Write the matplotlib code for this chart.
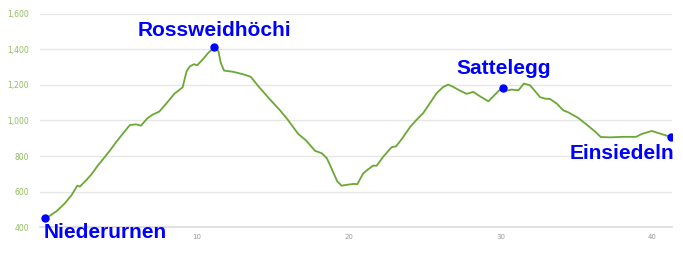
import matplotlib
matplotlib.use("Agg")
import matplotlib.pyplot as plt
from matplotlib.ticker import FuncFormatter

# elevation profile (km, m)
km = [0.0, 0.3, 0.74, 1.28, 1.73, 2.1, 2.27, 2.7, 3.05, 3.48, 3.81, 4.25, 4.69,
      5.13, 5.57, 6.0, 6.3, 6.71, 7.06, 7.5, 7.94, 8.49, 9.04, 9.3, 9.52, 9.79,
      10.0, 10.4, 10.73, 11.13, 11.4, 11.55, 11.77, 12.38, 13.04, 13.53, 14.03,
      14.8, 15.46, 16.0, 16.66, 17.17, 17.77, 18.2, 18.54, 18.75, 18.97, 19.24,
      19.52, 19.96, 20.34, 20.55, 20.95, 21.28, 21.6, 21.83, 22.27, 22.82, 23.1,
      23.48, 24.03, 24.47, 24.9, 25.35, 25.79, 26.22, 26.55, 26.88, 27.32, 27.76,
      28.2, 28.64, 29.19, 29.63, 29.96, 30.18, 30.4, 30.73, 31.17, 31.54, 31.94,
      32.27, 32.6, 32.93, 33.26, 33.7, 34.13, 34.46, 35.12, 35.68, 36.22, 36.6,
      37.21, 38.09, 38.93, 39.3, 39.96, 40.4, 41.24]
elev = [450, 464, 490, 534, 581, 633, 628, 665, 699, 750, 784, 831, 882,
        929, 975, 978, 971, 1012, 1033, 1050, 1093, 1150, 1187, 1277, 1305, 1317,
        1311, 1347, 1381, 1411, 1390, 1325, 1281, 1274, 1260, 1246, 1193,
        1118, 1057, 1001, 924, 888, 829, 816, 788, 750, 707, 656,
        633, 639, 643, 641, 703, 726, 746, 745, 797, 850, 854,
        895, 963, 1005, 1042, 1099, 1155, 1189, 1202, 1189, 1168, 1150,
        1161, 1136, 1108, 1146, 1174, 1184, 1168, 1174, 1170, 1208, 1198,
        1165, 1131, 1123, 1121, 1095, 1057, 1046, 1014, 976, 938, 907,
        905, 908, 908, 924, 941, 929, 907]

# named places
places = ["Niederurnen", "Rossweidhöchi", "Sattelegg", "Einsiedeln"]
place_km = [0.0, 11.13, 30.18, 41.24]
place_elev = [450, 1411, 1184, 907]

fig = plt.figure(figsize=(6.83, 2.58), dpi=100)
ax = fig.add_axes([0.0586, 0.12, 0.9254, 0.826])

ax.plot(km, elev, color="#6aa833", lw=1.3, zorder=3)
ax.plot(place_km, place_elev, "o", color="#0000ff", ms=5, zorder=4)

ax.set_xlim(-0.36, 41.3)
ax.set_ylim(400, 1600)
ax.set_yticks([400, 600, 800, 1000, 1200, 1400, 1600])
ax.set_xticks([10, 20, 30, 40])
ax.yaxis.set_major_formatter(FuncFormatter(lambda v, p: f"{int(v):,}"))
ax.grid(axis="y", color="#e6e6e6", lw=1)
ax.set_axisbelow(True)
for s in ["top", "right", "left"]:
    ax.spines[s].set_visible(False)
ax.spines["bottom"].set_color("#dcdcdc")
ax.spines["bottom"].set_linewidth(1.2)
ax.tick_params(length=0)
ax.tick_params(axis="y", pad=8, labelsize=5.5, labelcolor="#8fbf5c")
ax.tick_params(axis="x", pad=5, labelsize=5, labelcolor="#999999")

# label offsets in pixels from each point
offsets = [(-2, -20), (0, 11), (0, 14), (3, -22)]
aligns = ["left", "center", "center", "right"]
for name, x, y, off, ha in zip(places, place_km, place_elev, offsets, aligns):
    ax.annotate(name, (x, y), xytext=off, textcoords="offset pixels",
                ha=ha, va="baseline", fontsize=15, fontweight="bold",
                family="Liberation Sans", color="#0000ff",
                annotation_clip=False, zorder=5)

fig.savefig("out.png", dpi=100)
